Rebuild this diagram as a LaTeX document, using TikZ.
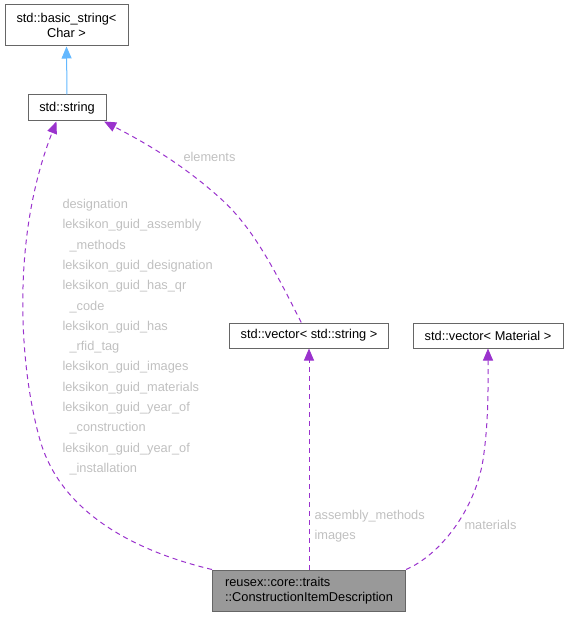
\documentclass[tikz,border=0pt]{standalone}
\usepackage{fontspec}
\setmainfont{Liberation Sans}
\usetikzlibrary{arrows.meta}
\definecolor{edgepurple}{HTML}{9A32CD}
\definecolor{edgeblue}{HTML}{63B8FF}
\definecolor{boxline}{HTML}{666666}
\definecolor{boxfill}{HTML}{999999}
\definecolor{labelgray}{HTML}{C0C0C0}

\begin{document}
\begin{tikzpicture}[x=1pt, y=-1pt, line width=1pt,
  font=\fontsize{12.8}{14.5}\selectfont,
  cls/.style={draw=boxline, fill=white, inner sep=0pt, align=center},
  member/.style={edgepurple, dash pattern=on 5pt off 4pt, -{Triangle[length=12pt, width=10pt]}},
  inherit/.style={edgeblue, -{Triangle[length=12pt, width=10pt]}},
  lbl/.style={text=labelgray, anchor=base west, inner sep=0pt}]
\useasboundingbox (0,0) rectangle (568,617);

% classes
\node[cls, minimum width=123pt, minimum height=41pt] (bstr) at (66.5,25.5) {std::basic\_string<\\Char >};
\node[cls, minimum width=78pt, minimum height=26pt] (str) at (67,108) {std::string};
\node[cls, minimum width=159pt, minimum height=25pt] (vecstr) at (309,335.5) {std::vector< std::string >};
\node[cls, minimum width=150pt, minimum height=25pt] (vecmat) at (488,335.5) {std::vector< Material >};
\node[cls, fill=boxfill, align=left, minimum width=193pt, minimum height=41pt] (cid) at (309,590.5) {reusex::core::traits\\::ConstructionItemDescription};

% edges
\draw[inherit] (str.north) -- (bstr.south);
\draw[member] (cid.north west) .. controls (130,550) and (60,510) .. (40,440)
  .. controls (20,370) and (10,240) .. (str.232);
\draw[member] (vecstr.121) .. controls (270,260) and (250,225) .. (220,198)
  .. controls (180,162) and (140,140) .. (str.340);
\draw[member] (cid.north) -- (vecstr.south);
\draw[member] (cid.north east) .. controls (440,555) and (475,510) .. (483,460)
  .. controls (489,420) and (488,380) .. (vecmat.south);

% labels
\foreach \txt/\xx [count=\i from 0] in {designation/62, leksikon\_guid\_assembly/62,
  \_methods/69, leksikon\_guid\_designation/62, leksikon\_guid\_has\_qr/62, \_code/69,
  leksikon\_guid\_has/62, \_rfid\_tag/69, leksikon\_guid\_images/62,
  leksikon\_guid\_materials/62, leksikon\_guid\_year\_of/62, \_construction/69,
  leksikon\_guid\_year\_of/62, \_installation/69}
  \node[lbl] (lab\i) at (\xx,{208.5+20.3*\i}) {\txt};
\node[lbl] (elem) at (183,161.5) {elements};
\node[lbl] (asm) at (314,519.5) {assembly\_methods};
\node[lbl] (img) at (314,539.5) {images};
\node[lbl] (mat) at (464,529.5) {materials};
\end{tikzpicture}
\end{document}
